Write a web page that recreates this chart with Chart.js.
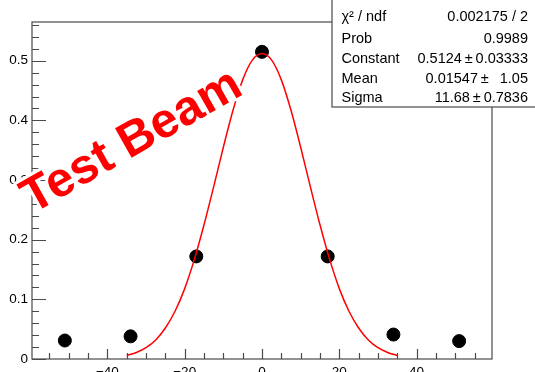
<!DOCTYPE html>
<html>
<head>
<meta charset="utf-8">
<script src="https://cdn.jsdelivr.net/npm/chart.js@4"></script>
<style>
  html, body { margin: 0; padding: 0; background: #fff; }
  #wrap { width: 535px; height: 372px; }
</style>
</head>
<body>
<div id="wrap"><canvas id="c"></canvas></div>
<script>
// measured points
const xPoints = [-51, -34, -17, 0, 17, 34, 51];
const yPoints = [0.031, 0.038, 0.172, 0.515, 0.172, 0.041, 0.030];

// gaussian fit curve
const xFit = [-35, -32.5, -30, -27.5, -25, -22.5, -20, -17.5, -15, -12.5, -10, -7.5, -5, -2.5, 0,
              2.5, 5, 7.5, 10, 12.5, 15, 17.5, 20, 22.5, 25, 27.5, 30, 32.5, 35];
const yFit = [0.006, 0.011, 0.019, 0.032, 0.052, 0.080, 0.118, 0.167, 0.225, 0.289, 0.355, 0.417, 0.468, 0.501, 0.512,
              0.501, 0.468, 0.417, 0.355, 0.289, 0.225, 0.167, 0.118, 0.080, 0.052, 0.032, 0.019, 0.011, 0.006];

const xTicks = [-40, -20, 0, 20, 40];
const yTicks = [0, 0.1, 0.2, 0.3, 0.4, 0.5];

const statLabels = ["\u03c7\u00b2 / ndf", "Prob", "Constant", "Mean", "Sigma"];
const statValues = ["0.002175 / 2", "0.9989", "0.5124\u2009\u00b1\u20090.03333", "0.01547\u2009\u00b1\u2009  1.05", "11.68\u2009\u00b1\u20090.7836"];

const FONT = "Liberation Sans, Arial, Helvetica, sans-serif";
const LINE = "#4a4a4a";

// ROOT style frame with inward ticks + stats box + label
const rootStyle = {
  id: "rootStyle",
  afterDatasetsDraw(chart) {
    const ctx = chart.ctx;
    const a = chart.chartArea;
    const xs = chart.scales.x, ys = chart.scales.y;
    ctx.save();
    ctx.strokeStyle = LINE;
    ctx.lineWidth = 1.2;
    ctx.beginPath();
    // y ticks: major 0.1, minor 0.02
    for (let i = 0; i <= 28; i++) {
      const v = i * 0.02;
      if (v > ys.max) break;
      const py = Math.round(ys.getPixelForValue(v)) + 0.5;
      const len = (i % 5 === 0) ? 14 : 7;
      ctx.moveTo(a.left, py);
      ctx.lineTo(a.left + len, py);
    }
    // x ticks: major 20, minor 5
    for (let v = -55; v <= 55; v += 5) {
      const px = Math.round(xs.getPixelForValue(v)) + 0.5;
      const len = (v % 20 === 0) ? 10 : 6;
      ctx.moveTo(px, a.bottom);
      ctx.lineTo(px, a.bottom - len);
    }
    ctx.stroke();
    ctx.strokeRect(a.left, a.top, a.right - a.left, a.bottom - a.top);
    ctx.restore();
  },
  afterDraw(chart) {
    const ctx = chart.ctx;
    ctx.save();
    // red label
    ctx.translate(132, 142);
    ctx.rotate(-29.5 * Math.PI / 180);
    ctx.font = "bold 49px " + FONT;
    ctx.textAlign = "center";
    ctx.textBaseline = "middle";
    ctx.lineJoin = "round";
    ctx.lineWidth = 6;
    ctx.strokeStyle = "#fff";
    ctx.strokeText("Test Beam", 0, 0);
    ctx.fillStyle = "#ff0000";
    ctx.fillText("Test Beam", 0, 0);
    ctx.restore();

    // stats box
    ctx.save();
    ctx.fillStyle = "#fff";
    ctx.fillRect(332, -2, 210, 109);
    ctx.strokeStyle = LINE;
    ctx.lineWidth = 1.2;
    ctx.strokeRect(332, -2, 210, 109);
    ctx.font = "14.5px " + FONT;
    ctx.fillStyle = "#000";
    ctx.textBaseline = "alphabetic";
    const rows = [20.5, 43, 63, 82.5, 102];
    statLabels.forEach((t, i) => {
      ctx.textAlign = "left";
      ctx.fillText(t, 341.5, rows[i]);
      ctx.textAlign = "right";
      ctx.fillText(statValues[i], 528, rows[i]);
    });
    ctx.restore();
  }
};

new Chart(document.getElementById("c"), {
  type: "scatter",
  data: {
    datasets: [
      {
        label: "fit",
        data: xFit.map((x, i) => ({ x: x, y: yFit[i] })),
        showLine: true,
        borderColor: "#ff0000",
        borderWidth: 1.5,
        pointRadius: 0,
        cubicInterpolationMode: "monotone",
        order: 0
      },
      {
        label: "data",
        data: xPoints.map((x, i) => ({ x: x, y: yPoints[i] })),
        showLine: false,
        backgroundColor: "#000",
        borderColor: "#000",
        pointRadius: 6.5,
        order: 1
      }
    ]
  },
  options: {
    responsive: true,
    maintainAspectRatio: false,
    animation: false,
    devicePixelRatio: 1,
    layout: { padding: { top: 22, right: 43, left: 0, bottom: 0 } },
    plugins: { legend: { display: false }, tooltip: { enabled: false } },
    scales: {
      x: {
        type: "linear",
        min: -59.5,
        max: 59.5,
        afterBuildTicks: s => { s.ticks = xTicks.map(v => ({ value: v })); },
        afterFit: s => { s.height = 13; },
        grid: { display: false, drawTicks: false },
        border: { display: false },
        ticks: {
          padding: 5,
          color: "#000",
          font: { family: FONT, size: 13.5 },
          maxRotation: 0,
          callback: v => (v < 0 ? "\u2212" + Math.abs(v) : String(v))
        }
      },
      y: {
        type: "linear",
        min: 0,
        max: 0.565,
        afterBuildTicks: s => { s.ticks = yTicks.map(v => ({ value: v })); },
        afterFit: s => { s.width = 32; },
        grid: { display: false, drawTicks: false },
        border: { display: false },
        ticks: {
          padding: 4,
          color: "#000",
          font: { family: FONT, size: 13.5 },
          callback: v => String(Math.round(v * 10) / 10)
        }
      }
    }
  },
  plugins: [rootStyle]
});
</script>
</body>
</html>
